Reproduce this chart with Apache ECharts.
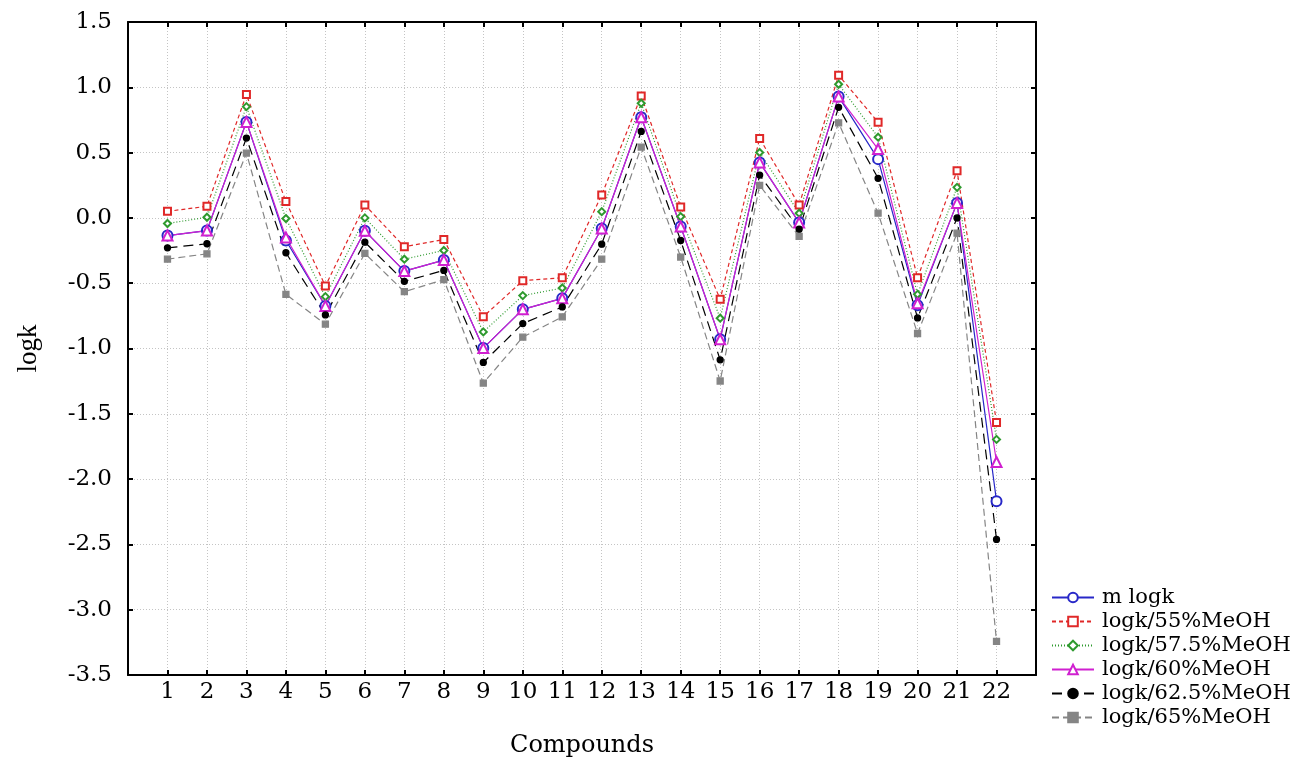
<!DOCTYPE html>
<html>
<head>
<meta charset="utf-8">
<script src="https://cdn.jsdelivr.net/npm/echarts@6/dist/echarts.min.js"></script>
<style>
  html, body { margin: 0; padding: 0; background: #fff; }
  #chart { width: 1305px; height: 763px; }
</style>
</head>
<body>
<div id="chart"></div>
<script>
// Compound numbers along the x axis
const compounds = ['1','2','3','4','5','6','7','8','9','10','11','12','13','14','15','16','17','18','19','20','21','22'];

// Retention (logk) per compound
const mLogk      = [-0.135, -0.097, 0.735, -0.173, -0.674, -0.099, -0.407, -0.323, -0.997, -0.700, -0.616, -0.081, 0.771, -0.066, -0.929, 0.425, -0.036, 0.929, 0.450, -0.669, 0.115, -2.169];
const logk55     = [0.050, 0.089, 0.944, 0.125, -0.522, 0.099, -0.221, -0.165, -0.756, -0.481, -0.458, 0.176, 0.934, 0.084, -0.623, 0.608, 0.099, 1.092, 0.733, -0.458, 0.361, -1.566];
const logk575    = [-0.043, 0.005, 0.852, -0.005, -0.603, 0.000, -0.316, -0.249, -0.873, -0.595, -0.537, 0.048, 0.878, 0.010, -0.768, 0.501, 0.036, 1.023, 0.618, -0.585, 0.234, -1.696];
const logk60     = [-0.135, -0.097, 0.735, -0.150, -0.674, -0.099, -0.407, -0.323, -0.997, -0.700, -0.616, -0.081, 0.771, -0.066, -0.929, 0.425, -0.036, 0.929, 0.527, -0.654, 0.115, -1.869];
const logk625    = [-0.229, -0.198, 0.611, -0.267, -0.743, -0.186, -0.486, -0.402, -1.107, -0.809, -0.682, -0.201, 0.662, -0.173, -1.087, 0.328, -0.087, 0.847, 0.303, -0.766, 0.000, -2.462];
const logk65     = [-0.316, -0.275, 0.496, -0.585, -0.814, -0.272, -0.565, -0.473, -1.265, -0.913, -0.758, -0.316, 0.542, -0.300, -1.249, 0.249, -0.142, 0.728, 0.036, -0.885, -0.117, -3.243];

const seriesNames = ['m logk', 'logk/55%MeOH', 'logk/57.5%MeOH', 'logk/60%MeOH', 'logk/62.5%MeOH', 'logk/65%MeOH'];

// pair each value with its compound number on the numeric x axis
const pairs = vals => vals.map((v, i) => [Number(compounds[i]), v]);

const serifFont = 'DejaVu Serif';
const frame = { show: true, onZero: false, lineStyle: { color: '#000', width: 2 } };
const innerTick = { show: true, inside: true, length: 5, lineStyle: { color: '#000', width: 2 } };
const dotted = { show: true, lineStyle: { color: '#c4c4c4', width: 1, type: [1, 2] } };

function lineSeries(name, vals, color, dash, symbol, size, width) {
  return {
    name, type: 'line', data: pairs(vals),
    xAxisIndex: 0, yAxisIndex: 0,
    symbol, symbolSize: size, showAllSymbol: true,
    lineStyle: { color, width: width || 1.2, type: dash },
    itemStyle: { color, borderColor: color, borderWidth: 1.3 },
    emphasis: { disabled: true }
  };
}

const chart = echarts.init(document.getElementById('chart'));
chart.setOption({
  animation: false,
  backgroundColor: '#fff',
  grid: { left: 128, right: 269, top: 22, bottom: 86 },
  xAxis: [
    {
      type: 'value', position: 'bottom', min: 0, max: 23, interval: 1,
      axisLine: frame, axisTick: innerTick, splitLine: dotted,
      axisLabel: {
        margin: 6, color: '#000', fontFamily: serifFont, fontSize: 23,
        formatter: v => (v >= 1 && v <= compounds.length) ? compounds[v - 1] : ''
      },
      name: 'Compounds', nameLocation: 'middle', nameGap: 59,
      nameTextStyle: { color: '#000', fontFamily: serifFont, fontSize: 24 }
    },
    {
      type: 'value', position: 'top', min: 0, max: 23, interval: 1,
      axisLine: frame, axisTick: innerTick, splitLine: { show: false },
      axisLabel: { show: false }
    }
  ],
  yAxis: [
    {
      type: 'value', position: 'left', min: -3.5, max: 1.5, interval: 0.5,
      axisLine: frame, axisTick: innerTick, splitLine: dotted,
      axisLabel: {
        margin: 16, color: '#000', fontFamily: serifFont, fontSize: 23,
        formatter: v => v.toFixed(1)
      },
      name: 'logk', nameLocation: 'middle', nameGap: 86, nameRotate: 90,
      nameTextStyle: { color: '#000', fontFamily: 'Liberation Serif', fontSize: 27 }
    },
    {
      type: 'value', position: 'right', min: -3.5, max: 1.5, interval: 0.5,
      axisLine: frame, axisTick: innerTick, splitLine: { show: false },
      axisLabel: { show: false }
    }
  ],
  legend: {
    orient: 'vertical', left: 1046, top: 582,
    itemWidth: 42, itemHeight: 12, itemGap: 3,
    textStyle: { color: '#000', fontFamily: serifFont, fontSize: 21, lineHeight: 21, padding: [0, 0, 0, 3] },
    data: seriesNames
  },
  series: [
    lineSeries(seriesNames[0], mLogk,   '#2828c8', 'solid',   'emptyCircle',   10),
    lineSeries(seriesNames[1], logk55,  '#e02828', [4, 3],    'emptyRect',     7),
    lineSeries(seriesNames[2], logk575, '#2e9a2e', [1, 2],    'emptyDiamond',  7),
    lineSeries(seriesNames[3], logk60,  '#d020d0', 'solid',   'emptyTriangle', 10),
    lineSeries(seriesNames[4], logk625, '#000000', [10, 6],   'circle',        6),
    lineSeries(seriesNames[5], logk65,  '#858585', [7, 4],    'rect',          6)
  ]
});
</script>
</body>
</html>
